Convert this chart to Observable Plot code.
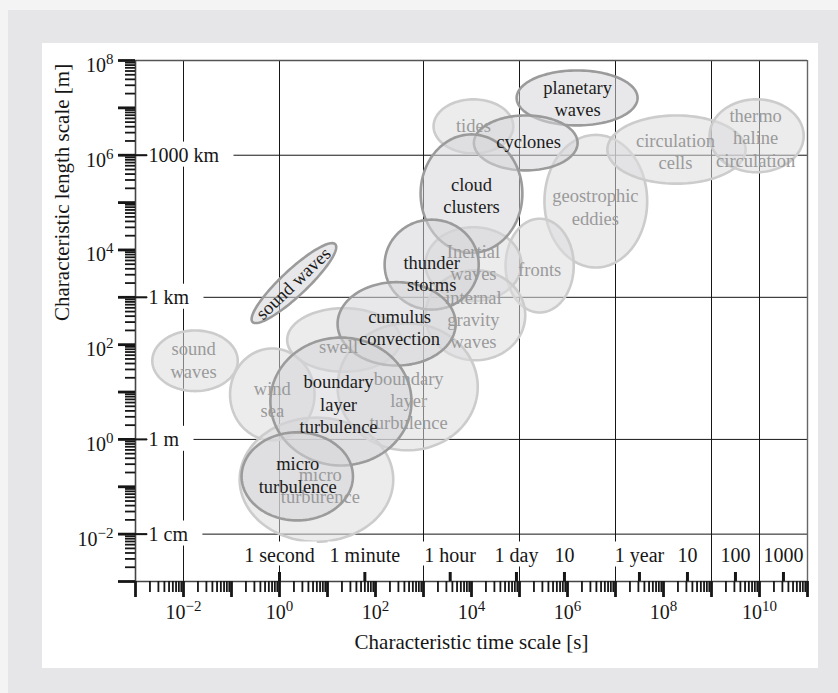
<!DOCTYPE html>
<html>
<head>
<meta charset="utf-8">
<script src="https://cdn.jsdelivr.net/npm/d3@7"></script>
<script src="https://cdn.jsdelivr.net/npm/@observablehq/plot@0.6"></script>
<style>
html, body { margin: 0; padding: 0; width: 838px; height: 693px; overflow: hidden; background: #f4f4f5; }
#bg { position: absolute; left: 8px; top: 10px; width: 830px; height: 683px; background: #e6e6e9; }
#panel { position: absolute; left: 42px; top: 43px; width: 776px; height: 625px; background: #ffffff; }
#chart { position: absolute; left: 0; top: 0; }
</style>
</head>
<body>
<div id="bg"></div>
<div id="panel"></div>
<div id="chart"></div>
<script>
// ---------- data ----------
const phenomena = [
  "planetary waves", "tides", "cyclones", "cloud clusters", "geostrophic eddies",
  "circulation cells", "thermohaline circulation", "fronts", "thunderstorms", "inertial waves",
  "internal gravity waves", "sound waves (air)", "cumulus convection", "swell", "boundary layer turbulence (air)",
  "boundary layer turbulence (ocean)", "wind sea", "micro turbulence (air)", "micro turbulence (ocean)", "sound waves (ocean)"
];
const phenomenonLabels = [
  "planetary\nwaves", "tides", "cyclones", "cloud\nclusters", "geostrophic\neddies",
  "circulation\ncells", "thermo\nhaline\ncirculation", "fronts", "thunder\nstorms", "Inertial\nwaves",
  "internal\ngravity\nwaves", "sound waves", "cumulus\nconvection", "swell", "boundary\nlayer\nturbulence",
  "boundary\nlayer\nturbulence", "wind\nsea", "micro\nturbulence", "micro\nturburence", "sound\nwaves"
];
const emphasis = [
  "dark", "light", "dark", "dark", "light",
  "light", "light", "light", "dark", "light",
  "light", "dark", "dark", "light", "dark",
  "light", "light", "dark", "light", "light"
];
// ellipse centres, log10 of seconds / metres
const centreLogTime = [6.20, 4.04, 5.13, 4.00, 6.59, 8.27, 9.94, 5.42, 3.17, 4.04, 4.08, 0.30, 2.44, 1.34, 1.28, 2.67, -0.15, 0.37, 0.77, -1.76];
const centreLogLength = [7.21, 6.61, 6.26, 5.19, 5.03, 6.12, 6.41, 3.67, 3.69, 3.70, 2.62, 3.30, 2.44, 2.10, 0.80, 1.11, 0.95, -0.78, -0.85, 1.66];
// ellipse half-widths, in decades
const radiusLogTime = [1.26, 0.83, 1.08, 1.06, 1.07, 1.44, 0.98, 0.71, 0.98, 1.00, 1.04, 1.19, 1.23, 1.18, 1.47, 1.46, 0.88, 1.16, 1.60, 0.89];
const radiusLogLength = [0.58, 0.57, 0.58, 1.25, 1.40, 0.72, 0.77, 0.99, 0.95, 0.78, 0.95, 0.27, 0.88, 0.67, 1.35, 1.34, 0.97, 0.93, 1.31, 0.64];
const tiltDegrees = [0, 0, 0, 0, 0, 0, 0, 0, 0, 0, 0, 43.6, 0, 0, 0, 0, 0, 0, 0, 0];
// label anchors, log10 of seconds / metres
const labelLogTime = [6.21, 4.04, 5.19, 4.00, 6.58, 8.25, 9.92, 5.42, 3.17, 4.04, 4.04, 0.29, 2.50, 1.23, 1.23, 2.69, -0.15, 0.38, 0.85, -1.79];
const labelLogLength = [7.21, 6.63, 6.31, 5.16, 4.92, 6.10, 6.38, 3.61, 3.52, 3.75, 2.55, 3.29, 2.37, 1.98, 0.76, 0.83, 0.86, -0.74, -0.96, 1.69];

const xTickExponents = [-2, 0, 2, 4, 6, 8, 10];
const yTickExponents = [-2, 0, 2, 4, 6, 8];
const timeTickNames = ["1 second", "1 minute", "1 hour", "1 day", "10", "1 year", "10", "100", "1000"];
const timeTickSeconds = [1, 60, 3600, 86400, 864000, 3.156e7, 3.156e8, 3.156e9, 3.156e10];
const lengthTickNames = ["1000 km", "1 km", "1 m", "1 cm"];
const lengthTickMeters = [1e6, 1e3, 1, 1e-2];
const gridSeconds = [1e-2, 1, 1e3, 1e5, 1e7, 1e9, 1e10];
const gridMeters = [1e-2, 1, 1e3, 1e6];
const xTitle = "Characteristic time scale [s]";
const yTitle = "Characteristic length scale [m]";

// ---------- derived tables ----------
const xDomain = [1e-3, 1e11];
const yDomain = [1e-3, 1e8];
const decadesX = d3.range(-3, 12).map(k => 10 ** k);
const decadesY = d3.range(-3, 9).map(k => 10 ** k);
const minorX = d3.range(-3, 11).flatMap(k => d3.range(2, 10).map(m => m * 10 ** k));
const minorY = d3.range(-3, 8).flatMap(k => d3.range(2, 10).map(m => m * 10 ** k));
const timeTicks = timeTickNames.map((name, i) => ({name, value: timeTickSeconds[i]}));
const lengthTicks = lengthTickNames.map((name, i) => ({name, value: lengthTickMeters[i]}));

const ellipses = phenomena.map((name, i) => ({
  id: i, name, label: phenomenonLabels[i], emphasis: emphasis[i],
  ct: centreLogTime[i], cl: centreLogLength[i], rt: radiusLogTime[i], rl: radiusLogLength[i], tilt: tiltDegrees[i],
  lt: 10 ** labelLogTime[i], ll: 10 ** labelLogLength[i]
}));
const outline = ellipses.flatMap(e => {
  const th = e.tilt * Math.PI / 180;
  return d3.range(120).map(k => {
    const a = 2 * Math.PI * k / 120;
    const u = e.rt * Math.cos(a), v = e.rl * Math.sin(a);
    return {id: e.id, emphasis: e.emphasis,
      t: 10 ** (e.ct + u * Math.cos(th) - v * Math.sin(th)),
      L: 10 ** (e.cl + u * Math.sin(th) + v * Math.cos(th))};
  });
});

const W = 672, H = 521;
const ink = "#161616";
const lightText = "#9a9a9a";
const darkText = "#1c1c1c";

const chart = Plot.plot({
  width: 838, height: 693,
  marginLeft: 135, marginRight: 31, marginTop: 60, marginBottom: 112,
  x: {type: "log", domain: xDomain, axis: null},
  y: {type: "log", domain: yDomain, axis: null},
  style: {background: "transparent", fontFamily: "'Liberation Serif', 'DejaVu Serif', serif", overflow: "visible"},
  marks: [
    // grid
    Plot.ruleX(gridSeconds, {stroke: ink, strokeWidth: 1}),
    Plot.ruleY(gridMeters, {stroke: ink, strokeWidth: 1}),
    // light (ocean) and dark (atmosphere) ellipses
    Plot.line(outline.filter(d => d.emphasis === "light"), {x: "t", y: "L", z: "id", curve: "linear-closed",
      fill: "#dddddf", fillOpacity: 0.55, stroke: "#cccccc", strokeWidth: 2.6}),
    Plot.line(outline.filter(d => d.emphasis === "dark"), {x: "t", y: "L", z: "id", curve: "linear-closed",
      fill: "#d5d5d9", fillOpacity: 0.55, stroke: "#9b9b9b", strokeWidth: 2.6}),
    // labels on top
    Plot.text(ellipses.filter(d => d.emphasis === "light"), {x: "lt", y: "ll", text: "label",
      fill: lightText, fontSize: 18.5, lineHeight: 1.2}),
    Plot.text(ellipses.filter(d => d.emphasis === "dark" && d.tilt === 0), {x: "lt", y: "ll", text: "label",
      fill: darkText, fontSize: 18.5, lineHeight: 1.2}),
    Plot.text(ellipses.filter(d => d.tilt !== 0), {x: "lt", y: "ll", text: "label",
      fill: darkText, fontSize: 18.5, rotate: -43.6}),
    // frame
    Plot.ruleY([yDomain[1]], {stroke: "#555", strokeWidth: 1.4}),
    Plot.ruleX([xDomain[1]], {stroke: "#666", strokeWidth: 1.4}),
    Plot.ruleX([xDomain[0]], {stroke: "#444", strokeWidth: 1.6}),
    Plot.ruleY([yDomain[0]], {stroke: "#444", strokeWidth: 1.6}),
    // x ticks below the axis
    Plot.ruleX(minorX, {stroke: ink, strokeWidth: 1.8, insetTop: H, insetBottom: -11}),
    Plot.ruleX(decadesX, {stroke: ink, strokeWidth: 2.8, insetTop: H, insetBottom: -16}),
    // y ticks left of the axis
    Plot.ruleY(minorY, {stroke: ink, strokeWidth: 1.8, insetRight: W, insetLeft: -10}),
    Plot.ruleY(decadesY, {stroke: ink, strokeWidth: 2.8, insetRight: W, insetLeft: -17}),
    // named ticks inside the frame
    Plot.ruleX(timeTicks, {x: "value", stroke: ink, strokeWidth: 3, insetTop: H - 9}),
    Plot.ruleY(lengthTicks, {y: "value", stroke: ink, strokeWidth: 2, insetRight: W - 12}),
    // named labels
    Plot.text(timeTicks, {x: "value", text: "name", frameAnchor: "bottom", dy: -20, fontSize: 20, fill: ink}),
    Plot.text(lengthTicks, {y: "value", text: "name", frameAnchor: "left", dx: 13, textAnchor: "start", fontSize: 20, fill: ink}),
    // power-of-ten labels
    Plot.text(xTickExponents, {x: d => 10 ** d, text: d => "10^" + d, frameAnchor: "bottom", dy: 37, fontSize: 20, fill: ink}),
    Plot.text(yTickExponents, {y: d => 10 ** d, text: d => "10^" + d, frameAnchor: "left", dx: -22, dy: 5, textAnchor: "end", fontSize: 20, fill: ink}),
    // axis titles
    Plot.text([xTitle], {frameAnchor: "bottom", dy: 67, fontSize: 21, fill: ink}),
    Plot.text([yTitle], {frameAnchor: "left", dx: -73, rotate: -90, fontSize: 21, fill: ink})
  ]
});

document.getElementById("chart").append(chart);

// superscript exponents and white label boxes
const NS = "http://www.w3.org/2000/svg";
const boxed = new Set([...timeTickNames, ...lengthTickNames]);
chart.querySelectorAll("text").forEach(t => {
  const s = t.textContent;
  const m = /^10\^(.+)$/.exec(s);
  if (m) {
    t.textContent = "10";
    const sup = document.createElementNS(NS, "tspan");
    sup.setAttribute("dy", "-8");
    sup.setAttribute("font-size", "15");
    sup.textContent = m[1].replace("-", "\u2212");
    t.appendChild(sup);
  } else if (boxed.has(s)) {
    const b = t.getBBox();
    const isLength = lengthTickNames.includes(s);
    const padL = isLength ? 1 : 2, padR = isLength ? 14 : 2, padT = 2, padB = isLength ? 1 : 0;
    const r = document.createElementNS(NS, "rect");
    r.setAttribute("x", b.x - padL);
    r.setAttribute("y", b.y - padT);
    r.setAttribute("width", b.width + padL + padR);
    r.setAttribute("height", b.height + padT + padB);
    r.setAttribute("fill", "#ffffff");
    r.setAttribute("stroke", "none");
    if (t.getAttribute("transform")) r.setAttribute("transform", t.getAttribute("transform"));
    t.parentNode.insertBefore(r, t);
  }
});
</script>
</body>
</html>
